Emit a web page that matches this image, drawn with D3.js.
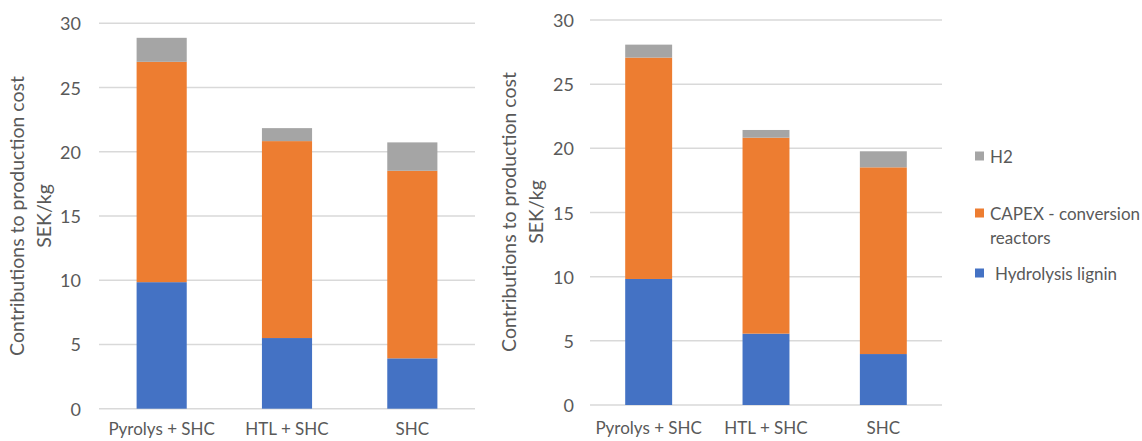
<!DOCTYPE html>
<html>
<head>
<meta charset="utf-8">
<script src="https://cdn.jsdelivr.net/npm/d3@7"></script>
<style>
  html, body { margin: 0; padding: 0; background: #fff; }
  svg { display: block; }
  text { font-family: Lato, "Open Sans", sans-serif; fill: #595959; }
</style>
</head>
<body>
<svg id="chart" width="1142" height="441"></svg>
<script>
// Production routes on the x axis
const categories = ["Pyrolys + SHC", "HTL + SHC", "SHC"];

// Cost contributions (SEK/kg), left panel
const leftLignin = [9.85, 5.50, 3.92];
const leftCapex  = [17.15, 15.33, 14.60];
const leftH2     = [1.87, 1.01, 2.21];

// Cost contributions (SEK/kg), right panel
const rightLignin = [9.82, 5.56, 3.97];
const rightCapex  = [17.25, 15.27, 14.55];
const rightH2     = [1.01, 0.60, 1.25];

const yTicks = [0, 5, 10, 15, 20, 25, 30];
const yTitleLines = ["Contributions to production cost", "SEK/kg"];

const seriesNames = ["Hydrolysis lignin", "CAPEX - conversion reactors", "H2"];
const seriesColors = ["#4472C4", "#ED7D31", "#A5A5A5"];
const legendLines = [["H2"], ["CAPEX - conversion", "reactors"], ["Hydrolysis lignin"]];
const legendColors = ["#A5A5A5", "#ED7D31", "#4472C4"];

const svg = d3.select("#chart");

function panel(cfg) {
  const rows = categories.map((c, i) => ({
    cat: c,
    lignin: cfg.lignin[i],
    capex: cfg.capex[i],
    h2: cfg.h2[i]
  }));
  const stack = d3.stack().keys(["lignin", "capex", "h2"])(rows);

  const x = d3.scaleBand().domain(categories)
    .range([cfg.x0, cfg.x1]).paddingInner(0.6).paddingOuter(0.3);
  const y = d3.scaleLinear().domain([0, 30]).range([cfg.y0, cfg.y1]);

  const g = svg.append("g");

  // horizontal gridlines
  g.append("g").selectAll("line").data(yTicks).join("line")
    .attr("x1", cfg.x0).attr("x2", cfg.x1)
    .attr("y1", d => y(d)).attr("y2", d => y(d))
    .attr("stroke", "#d9d9d9").attr("stroke-width", 1.5);

  // tick labels
  g.append("g").selectAll("text").data(yTicks).join("text")
    .attr("x", cfg.tickX).attr("y", d => y(d))
    .attr("text-anchor", "end").attr("dominant-baseline", "central")
    .attr("font-size", 18)
    .text(d => d);

  // stacked bars
  g.append("g").selectAll("g").data(stack).join("g")
    .attr("fill", (d, i) => seriesColors[i])
    .selectAll("rect").data(d => d).join("rect")
    .attr("x", d => x(d.data.cat))
    .attr("width", x.bandwidth())
    .attr("y", d => y(d[1]))
    .attr("height", d => y(d[0]) - y(d[1]));

  // category labels
  g.append("g").selectAll("text").data(categories).join("text")
    .attr("x", d => x(d) + x.bandwidth() / 2)
    .attr("y", cfg.catY)
    .attr("text-anchor", "middle")
    .attr("font-size", 17)
    .text(d => d);

  // y-axis title, two lines rotated
  const t = g.append("text")
    .attr("transform", `translate(${cfg.titleX},${cfg.titleY}) rotate(-90)`)
    .attr("text-anchor", "middle")
    .attr("font-size", 19.5);
  yTitleLines.forEach((line, i) => {
    t.append("tspan").attr("x", 0).attr("dy", i === 0 ? 0 : 27).text(line);
  });
}

panel({ lignin: leftLignin, capex: leftCapex, h2: leftH2,
        x0: 99, x1: 475, y0: 408.7, y1: 23.3,
        tickX: 81, catY: 435, titleX: 24, titleY: 216 });

panel({ lignin: rightLignin, capex: rightCapex, h2: rightH2,
        x0: 590, x1: 942, y0: 405, y1: 20,
        tickX: 574, catY: 434, titleX: 516, titleY: 212 });

// legend
const legendY = [156, 213, 273];
const lg = svg.append("g");
legendLines.forEach((lines, i) => {
  lg.append("rect")
    .attr("x", 975).attr("y", legendY[i] - 4.5)
    .attr("width", 9).attr("height", 9)
    .attr("fill", legendColors[i]);
  const t = lg.append("text")
    .attr("x", i === 2 ? 995 : 990).attr("y", legendY[i])
    .attr("dominant-baseline", "central")
    .attr("font-size", 17);
  lines.forEach((line, j) => {
    t.append("tspan").attr("x", i === 2 ? 995 : 990).attr("dy", j === 0 ? 0 : 24).text(line);
  });
});
</script>
</body>
</html>
